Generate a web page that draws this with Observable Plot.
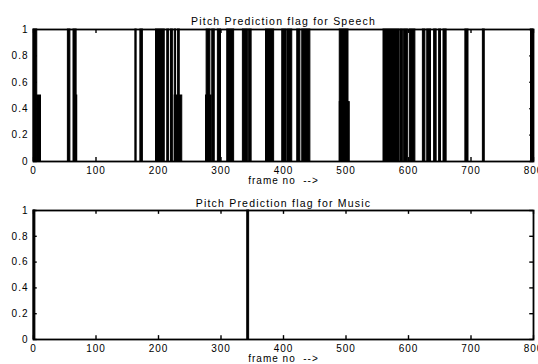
<!DOCTYPE html>
<html>
<head>
<meta charset="utf-8">
<script src="https://cdn.jsdelivr.net/npm/d3@7"></script>
<script src="https://cdn.jsdelivr.net/npm/@observablehq/plot@0.6"></script>
<style>
  html, body { margin: 0; padding: 0; background: #fff; }
  #chart { position: relative; width: 538px; height: 364px; overflow: hidden; }
  #chart svg { display: block; }
  #chart svg text { letter-spacing: 1px; }
</style>
</head>
<body>
<div id="chart"></div>
<script>
// Titles and labels
const speechTitle = "Pitch Prediction flag for Speech";
const musicTitle = "Pitch Prediction flag for Music";
const xLabel = "frame no  -->";

// Tick values
const xTicks = [0, 100, 200, 300, 400, 500, 600, 700, 800];
const yTicks = [0, 0.2, 0.4, 0.6, 0.8, 1];

// Speech: dense flag-toggling bands (frame start, frame end, vertical extent)
const speechStart = [0, 6, 55, 64, 69, 163, 171, 196, 214, 220, 226, 231, 226, 277, 276, 286, 295, 310, 335, 345, 372, 398, 406, 422, 430, 490, 490, 560, 588, 593, 602, 623, 630, 641, 649, 656, 691, 719, 796];
const speechEnd   = [6, 12, 59, 69, 70, 165, 175, 210, 217, 223, 228, 234, 238, 283, 285, 290, 300, 321, 343, 349, 385, 404, 414, 427, 443, 504, 506, 586, 591, 599, 611, 627, 636, 645, 652, 661, 696, 722, 800];
const speechTop   = [1, 0.5, 1, 1, 0.5, 1, 1, 1, 1, 1, 1, 1, 0.5, 1, 0.5, 1, 1, 1, 1, 1, 1, 1, 1, 1, 1, 1, 0.45, 1, 1, 1, 1, 1, 1, 1, 1, 1, 1, 1, 1];

// Music: flag is almost always zero
const musicStart = [0, 342];
const musicEnd   = [3, 345];
const musicTop   = [1, 1];

const font = "'Liberation Sans', Arial, Helvetica, sans-serif";

function panel({title, starts, ends, tops, height, marginTop, marginBottom, titleDy, tickPad, labelDy}) {
  const bands = starts.map((s, i) => ({start: s, end: ends[i], top: tops[i]}));
  return Plot.plot({
    width: 538,
    height,
    marginLeft: 33,
    marginRight: 5,
    marginTop,
    marginBottom,
    style: {fontFamily: font, fontSize: "10px", color: "#000", background: "#fff", overflow: "visible"},
    x: {domain: [0, 800], ticks: xTicks},
    y: {domain: [0, 1], ticks: yTicks},
    marks: [
      Plot.rect(bands, {x1: "start", x2: "end", y1: 0, y2: "top", fill: "#000", stroke: "#000", strokeWidth: 1}),
      Plot.axisX(xTicks, {tickSize: 0, tickPadding: tickPad, tickFormat: d3.format("d"), label: null, fontSize: 10}),
      Plot.axisY(yTicks, {tickSize: 0, tickPadding: 5, tickFormat: d => String(d), label: null, fontSize: 10}),
      // inward tick marks, MATLAB style (bottom/top/left/right)
      Plot.ruleX(xTicks, {x: d => d, y1: 0, y2: 0.03, stroke: "#000", strokeWidth: 1.4}),
      Plot.ruleX(xTicks, {x: d => d, y1: 0.97, y2: 1, stroke: "#000", strokeWidth: 1.4}),
      Plot.ruleY(yTicks, {y: d => d, x1: 0, x2: 6, stroke: "#000", strokeWidth: 1.4}),
      Plot.ruleY(yTicks, {y: d => d, x1: 794, x2: 800, stroke: "#000", strokeWidth: 1.4}),
      Plot.frame({stroke: "#000", strokeWidth: 1.8}),
      Plot.text([title], {frameAnchor: "top", dy: titleDy, fontSize: 10.5, fill: "#000"}),
      Plot.text([xLabel], {frameAnchor: "bottom", dy: labelDy, fontSize: 10, fill: "#000"})
    ]
  });
}

const speechPanel = panel({title: speechTitle, starts: speechStart, ends: speechEnd, tops: speechTop,
  height: 190, marginTop: 29, marginBottom: 29, titleDy: -12, tickPad: 5, labelDy: 22.5});
const musicPanel = panel({title: musicTitle, starts: musicStart, ends: musicEnd, tops: musicTop,
  height: 174, marginTop: 20, marginBottom: 25, titleDy: -10.5, tickPad: 5, labelDy: 22});
const chart = document.getElementById("chart");
chart.appendChild(speechPanel);
chart.appendChild(musicPanel);
chart.querySelectorAll("svg text").forEach(t => {
  if (t.textContent === speechTitle || t.textContent === musicTitle) t.style.letterSpacing = "1.2px";
});
</script>
</body>
</html>
